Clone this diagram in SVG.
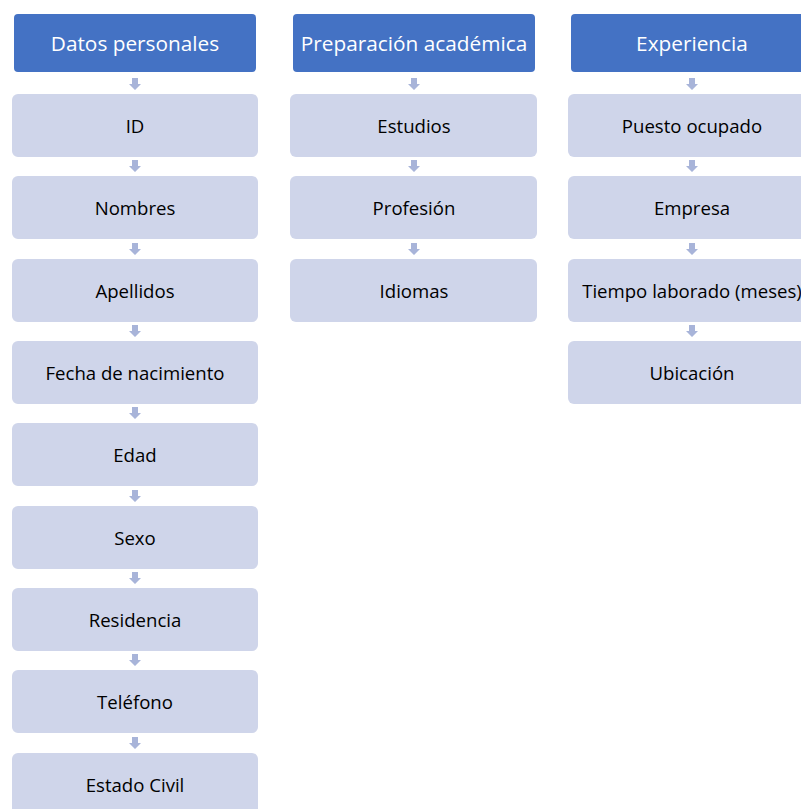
<svg xmlns="http://www.w3.org/2000/svg" width="801" height="809" viewBox="0 0 801 809">
  <style>
    .head rect { fill: #4472C4; }
    .head text { fill: #FFFFFF; font-size: 20.8px; }
    .item rect { fill: #CFD5EA; }
    .item text { fill: #000000; font-size: 18.6px; }
    text { font-family: "Open Sans", "Liberation Sans", sans-serif; text-anchor: middle; dominant-baseline: central; }
    .arr { fill: #A8B4D9; }
  </style>
  <defs>
    <path id="down" d="M-3,0 H3 V6 H6 L0,12 L-6,6 H-3 Z"/>
  </defs>
  <rect width="801" height="809" fill="#FFFFFF"/>

  <!-- column 1: Datos personales -->
  <g id="h-datos" class="head"><rect x="14" y="14" width="242" height="58" rx="4"/><text x="135" y="42.5">Datos personales</text></g>
  <g id="n-id" class="item"><rect x="12" y="94" width="246" height="63" rx="6"/><text x="135" y="125.5">ID</text></g>
  <g id="n-nombres" class="item"><rect x="12" y="176" width="246" height="63" rx="6"/><text x="135" y="207.5">Nombres</text></g>
  <g id="n-apellidos" class="item"><rect x="12" y="259" width="246" height="63" rx="6"/><text x="135" y="290.5">Apellidos</text></g>
  <g id="n-fecha" class="item"><rect x="12" y="341" width="246" height="63" rx="6"/><text x="135" y="372.5">Fecha de nacimiento</text></g>
  <g id="n-edad" class="item"><rect x="12" y="423" width="246" height="63" rx="6"/><text x="135" y="454.5">Edad</text></g>
  <g id="n-sexo" class="item"><rect x="12" y="506" width="246" height="63" rx="6"/><text x="135" y="537.5">Sexo</text></g>
  <g id="n-residencia" class="item"><rect x="12" y="588" width="246" height="63" rx="6"/><text x="135" y="619.5">Residencia</text></g>
  <g id="n-telefono" class="item"><rect x="12" y="670" width="246" height="63" rx="6"/><text x="135" y="701.5">Teléfono</text></g>
  <g id="n-estado" class="item"><rect x="12" y="753" width="246" height="63" rx="6"/><text x="135" y="784.5">Estado Civil</text></g>

  <!-- column 2: Preparación académica -->
  <g id="h-prep" class="head"><rect x="293" y="14" width="242" height="58" rx="4"/><text x="414" y="42.5">Preparación académica</text></g>
  <g id="n-estudios" class="item"><rect x="290" y="94" width="247" height="63" rx="6"/><text x="414" y="125.5">Estudios</text></g>
  <g id="n-profesion" class="item"><rect x="290" y="176" width="247" height="63" rx="6"/><text x="414" y="207.5">Profesión</text></g>
  <g id="n-idiomas" class="item"><rect x="290" y="259" width="247" height="63" rx="6"/><text x="414" y="290.5">Idiomas</text></g>

  <!-- column 3: Experiencia -->
  <g id="h-exp" class="head"><rect x="571" y="14" width="242" height="58" rx="4"/><text x="692" y="42.5">Experiencia</text></g>
  <g id="n-puesto" class="item"><rect x="568" y="94" width="247" height="63" rx="6"/><text x="692" y="125.5">Puesto ocupado</text></g>
  <g id="n-empresa" class="item"><rect x="568" y="176" width="247" height="63" rx="6"/><text x="692" y="207.5">Empresa</text></g>
  <g id="n-tiempo" class="item"><rect x="568" y="259" width="247" height="63" rx="6"/><text x="692" y="290.5">Tiempo laborado (meses)</text></g>
  <g id="n-ubicacion" class="item"><rect x="568" y="341" width="247" height="63" rx="6"/><text x="692" y="372.5">Ubicación</text></g>

  <!-- connectors -->
  <g id="connectors" class="arr">
    <use href="#down" x="135" y="78"/>
    <use href="#down" x="135" y="160"/>
    <use href="#down" x="135" y="243"/>
    <use href="#down" x="135" y="325"/>
    <use href="#down" x="135" y="407"/>
    <use href="#down" x="135" y="490"/>
    <use href="#down" x="135" y="572"/>
    <use href="#down" x="135" y="654"/>
    <use href="#down" x="135" y="737"/>
    <use href="#down" x="414" y="78"/>
    <use href="#down" x="414" y="160"/>
    <use href="#down" x="414" y="243"/>
    <use href="#down" x="692" y="78"/>
    <use href="#down" x="692" y="160"/>
    <use href="#down" x="692" y="243"/>
    <use href="#down" x="692" y="325"/>
  </g>
</svg>
